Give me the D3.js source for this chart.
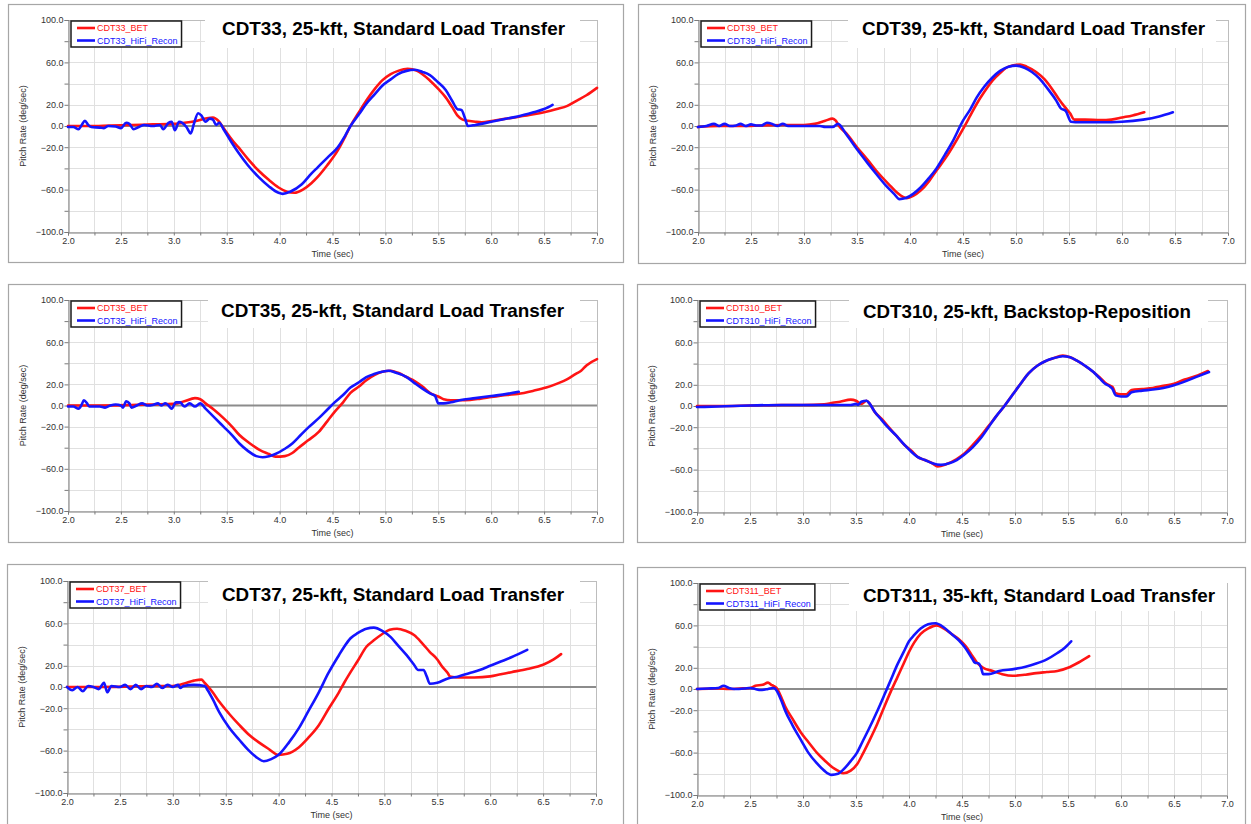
<!DOCTYPE html>
<html>
<head>
<meta charset="utf-8">
<script src="https://cdn.jsdelivr.net/npm/d3@7"></script>
<style>
  html, body { margin: 0; padding: 0; background: #fff; }
  svg { display: block; font-family: "Liberation Sans", Arial, sans-serif; }
</style>
</head>
<body>
<svg id="chart" width="1251" height="824"></svg>
<script>
// ---------------- DATA ----------------
const xTicks = [2.0, 2.25, 2.5, 2.75, 3.0, 3.25, 3.5, 3.75, 4.0, 4.25, 4.5, 4.75, 5.0, 5.25, 5.5, 5.75, 6.0, 6.25, 6.5, 6.75, 7.0];
const xTickLabels = [2.0, 2.5, 3.0, 3.5, 4.0, 4.5, 5.0, 5.5, 6.0, 6.5, 7.0];
const yTicks = [-100, -80, -60, -40, -20, 0, 20, 40, 60, 80, 100];
const yTickLabels = [100, 60, 20, 0, -20, -60, -100];
const xAxisTitle = "Time (sec)";
const yAxisTitle = "Pitch Rate (deg/sec)";

const chartTitles = [
  "CDT33, 25-kft, Standard Load Transfer",
  "CDT39, 25-kft, Standard Load Transfer",
  "CDT35, 25-kft, Standard Load Transfer",
  "CDT310, 25-kft, Backstop-Reposition",
  "CDT37, 25-kft, Standard Load Transfer",
  "CDT311, 35-kft, Standard Load Transfer"
];
const runNames = ["CDT33", "CDT39", "CDT35", "CDT310", "CDT37", "CDT311"];
const seriesSuffixes = ["_BET", "_HiFi_Recon"];

// [time (sec), pitch rate (deg/sec)]
const cdt33Bet = [[2.0,0],[2.2,0],[2.4,0.5],[2.6,1],[2.8,1.5],[3.0,2],[3.1,3],[3.2,4.5],[3.3,7],[3.37,8],[3.42,5],[3.47,-2],[3.55,-13],[3.61,-20],[3.7,-31],[3.8,-42],[3.9,-51],[3.99,-58],[4.07,-62],[4.14,-63],[4.22,-60],[4.3,-54],[4.36,-48],[4.45,-37],[4.55,-23],[4.62,-10],[4.67,0],[4.75,13],[4.82,24],[4.9,35],[4.97,43],[5.05,49],[5.12,52],[5.21,54],[5.3,52],[5.42,43],[5.5,35],[5.57,27],[5.63,18],[5.68,10],[5.73,6],[5.78,5],[5.85,4],[5.91,3.5],[6.02,5],[6.15,7],[6.25,8.5],[6.4,11],[6.5,13],[6.62,16],[6.72,19],[6.81,24],[6.9,29],[7.0,36]];
const cdt33HiFi = [[2.0,-1],[2.05,-1],[2.1,-3],[2.13,1],[2.16,5],[2.19,1],[2.22,-1],[2.3,-1.5],[2.34,-2],[2.38,0],[2.45,-0.5],[2.5,-2],[2.55,3],[2.58,2],[2.62,-3],[2.67,-1],[2.72,1],[2.8,0],[2.87,1],[2.9,-3],[2.95,3],[2.98,4],[3.01,-4],[3.05,4],[3.08,3],[3.12,-1],[3.16,-7],[3.19,2],[3.23,12],[3.26,10],[3.3,4],[3.34,7],[3.37,6],[3.4,1],[3.43,3],[3.47,-3],[3.55,-16],[3.61,-25],[3.7,-37],[3.8,-48],[3.9,-57],[3.99,-63],[4.03,-64],[4.1,-62],[4.21,-55],[4.3,-45],[4.36,-39],[4.45,-30],[4.55,-20],[4.62,-9],[4.67,0],[4.75,11],[4.82,21],[4.9,30],[4.97,38],[5.05,44],[5.12,49],[5.2,52],[5.28,53],[5.35,51],[5.42,48],[5.5,41],[5.57,34],[5.63,24],[5.68,16],[5.72,15],[5.75,8],[5.78,0],[5.85,1],[6.0,4],[6.15,7],[6.25,9],[6.4,13],[6.5,16],[6.58,20]];

const cdt39Bet = [[2.0,-1],[2.2,0],[2.4,0],[2.6,0.5],[2.8,1],[3.0,1],[3.1,2],[3.2,5],[3.27,7],[3.3,5],[3.33,0],[3.4,-7],[3.5,-20],[3.6,-32],[3.68,-42],[3.8,-55],[3.88,-63],[3.97,-68],[4.03,-66],[4.1,-61],[4.18,-52],[4.25,-42],[4.33,-31],[4.4,-20],[4.51,-1],[4.57,10],[4.63,21],[4.7,32],[4.78,43],[4.85,50],[4.93,56],[5.04,58],[5.1,56],[5.19,51],[5.27,44],[5.34,35],[5.4,26],[5.46,18],[5.51,12],[5.55,6],[5.65,6],[5.8,5.5],[5.9,6],[6.0,8],[6.1,10],[6.21,13]];
const cdt39HiFi = [[2.0,-1],[2.08,0],[2.15,2],[2.2,0],[2.25,2],[2.3,0],[2.36,0.5],[2.4,2],[2.45,0],[2.5,1.5],[2.55,0.5],[2.6,0.5],[2.65,3],[2.7,2],[2.75,0],[2.8,2],[2.85,0],[3.0,0],[3.15,0],[3.2,-1],[3.27,-1],[3.32,2],[3.4,-8],[3.5,-22],[3.6,-35],[3.68,-45],[3.78,-57],[3.85,-64],[3.9,-69],[3.96,-68],[4.03,-64],[4.1,-58],[4.18,-49],[4.25,-40],[4.33,-27],[4.4,-15],[4.5,5],[4.57,16],[4.63,27],[4.7,37],[4.78,46],[4.85,52],[4.93,56],[5.0,57],[5.08,55],[5.15,51],[5.22,45],[5.3,35],[5.38,24],[5.42,17],[5.47,14],[5.52,4],[5.6,3.5],[5.8,3.5],[6.0,4],[6.2,6],[6.35,9],[6.48,13]];

const cdt35Bet = [[2.0,0],[2.3,0],[2.6,0.5],[2.8,1],[3.0,1.5],[3.1,4],[3.2,7],[3.25,6],[3.3,2],[3.38,-4],[3.47,-12],[3.55,-20],[3.62,-28],[3.72,-36],[3.81,-42],[3.9,-46],[3.96,-48.5],[4.05,-48],[4.12,-45],[4.18,-40],[4.27,-33],[4.37,-25],[4.45,-15],[4.52,-6],[4.6,3],[4.67,12],[4.75,18],[4.82,24],[4.9,29],[4.97,32],[5.05,33],[5.12,31],[5.2,27],[5.28,23],[5.35,18],[5.42,12],[5.46,10],[5.5,8.5],[5.55,6],[5.62,5],[5.75,5],[5.9,6.5],[6.0,8],[6.15,10],[6.25,11],[6.4,14],[6.52,17],[6.63,21],[6.72,25],[6.8,30],[6.85,33],[6.9,38],[7.0,44]];
const cdt35HiFi = [[2.0,-1],[2.05,-1],[2.1,-3],[2.13,1],[2.15,5],[2.18,2],[2.2,-1],[2.3,-1],[2.35,-2],[2.4,0],[2.45,1],[2.5,0],[2.52,-2],[2.55,4],[2.58,2],[2.6,-2],[2.65,0],[2.7,2],[2.75,0],[2.8,0.5],[2.85,2],[2.88,0],[2.92,2],[2.95,0],[2.98,-3],[3.02,3],[3.06,3],[3.1,-1],[3.15,2],[3.2,-1],[3.25,2],[3.3,-3],[3.38,-11],[3.47,-20],[3.55,-28],[3.62,-36],[3.7,-43],[3.78,-48],[3.84,-49],[3.9,-48],[3.96,-46],[4.05,-41],[4.12,-36],[4.18,-30],[4.27,-21],[4.37,-12],[4.45,-4],[4.52,3],[4.6,10],[4.67,17],[4.75,22],[4.82,27],[4.9,30],[4.97,32],[5.03,33],[5.1,31],[5.2,27],[5.28,21],[5.35,16],[5.43,11],[5.47,9],[5.5,2],[5.55,2],[5.62,3],[5.7,5],[5.85,7],[6.0,9],[6.15,11],[6.26,13]];

const cdt310Bet = [[2.0,0],[2.2,0],[2.5,0.5],[2.8,1],[3.0,1],[3.2,1.5],[3.28,3],[3.35,4],[3.45,6],[3.5,5],[3.55,2],[3.6,5],[3.63,2],[3.68,-6],[3.74,-12],[3.8,-19],[3.88,-28],[3.96,-37],[4.02,-42],[4.08,-48],[4.15,-51],[4.22,-54],[4.27,-57],[4.35,-55],[4.45,-50],[4.52,-45],[4.6,-37],[4.68,-28],[4.75,-19],[4.82,-10],[4.9,0],[4.98,11],[5.06,22],[5.13,31],[5.21,38],[5.28,42],[5.36,45],[5.45,47.5],[5.52,46],[5.58,43],[5.66,38],[5.74,32],[5.8,27],[5.85,22],[5.9,19],[5.92,18],[5.95,12],[6.0,11],[6.05,11],[6.1,15],[6.2,16],[6.3,17],[6.4,19],[6.5,21],[6.6,25],[6.7,28],[6.82,33]];
const cdt310HiFi = [[2.0,-1],[2.2,-0.5],[2.5,0.5],[2.8,1],[3.0,1],[3.2,1],[3.45,1],[3.5,2],[3.52,1],[3.55,4],[3.6,5],[3.63,2],[3.68,-6],[3.74,-13],[3.8,-20],[3.88,-28],[3.96,-37],[4.02,-43],[4.08,-48],[4.15,-51],[4.22,-54],[4.3,-55.5],[4.38,-54],[4.45,-51],[4.52,-46],[4.6,-39],[4.68,-30],[4.75,-20],[4.82,-10],[4.9,0],[4.98,11],[5.06,22],[5.13,31],[5.21,38],[5.28,42],[5.36,45],[5.45,47],[5.52,46],[5.58,43],[5.66,38],[5.74,32],[5.8,26],[5.85,21],[5.9,18],[5.92,16],[5.95,10],[6.0,9],[6.05,9],[6.1,13],[6.2,14.5],[6.3,15.5],[6.4,17],[6.5,19.5],[6.6,23],[6.7,27],[6.83,32]];

const cdt37Bet = [[2.0,0],[2.3,0],[2.6,0.5],[2.8,1],[3.0,1],[3.1,3],[3.2,6],[3.27,7],[3.3,4],[3.37,-4],[3.44,-14],[3.53,-25],[3.63,-36],[3.72,-45],[3.81,-52],[3.9,-58],[4.0,-64],[4.08,-63],[4.19,-57],[4.28,-48],[4.38,-36],[4.47,-21],[4.57,-5],[4.62,4],[4.68,14],[4.75,25],[4.83,38],[4.9,44],[4.98,50],[5.05,54],[5.12,55],[5.2,53],[5.28,49],[5.36,41],[5.43,33],[5.5,26],[5.54,20],[5.6,13],[5.62,10],[5.7,9],[5.85,9],[6.0,10],[6.1,12],[6.2,14],[6.35,17],[6.5,21],[6.6,26],[6.67,31]];
const cdt37HiFi = [[2.0,0],[2.05,-3],[2.1,0],[2.15,-4],[2.2,1],[2.25,0],[2.3,-2],[2.35,4],[2.38,-5],[2.42,1],[2.5,0],[2.55,2],[2.6,-2],[2.65,2],[2.7,-2],[2.75,1],[2.8,0],[2.85,3],[2.9,-1],[2.95,2],[3.0,0],[3.05,2],[3.07,-1],[3.1,1],[3.2,2],[3.3,1],[3.33,-3],[3.38,-12],[3.44,-24],[3.53,-38],[3.63,-50],[3.72,-60],[3.8,-67],[3.86,-70],[3.93,-68],[4.0,-64],[4.1,-52],[4.19,-39],[4.28,-23],[4.38,-5],[4.47,13],[4.57,30],[4.62,38],[4.68,46],[4.75,51],[4.83,55],[4.9,56],[4.98,53],[5.06,47],[5.13,39],[5.21,30],[5.28,21],[5.32,16],[5.37,16],[5.4,10],[5.43,3],[5.5,4],[5.6,8],[5.7,10],[5.8,13],[5.9,16],[6.0,20],[6.1,24],[6.2,28],[6.35,35]];

const cdt311Bet = [[2.0,0],[2.2,0.5],[2.3,0],[2.4,0.5],[2.5,1],[2.55,3],[2.62,4],[2.67,6],[2.7,4],[2.72,3],[2.75,1],[2.8,-9],[2.83,-16],[2.9,-28],[2.98,-41],[3.05,-50],[3.13,-60],[3.2,-67],[3.28,-74],[3.33,-77],[3.38,-79.5],[3.45,-77],[3.51,-71],[3.56,-62],[3.62,-50],[3.7,-33],[3.77,-16],[3.83,-2],[3.89,11],[3.95,24],[4.0,35],[4.05,44],[4.11,52],[4.18,57],[4.26,60],[4.33,57],[4.4,52],[4.47,47],[4.53,41],[4.6,31],[4.64,25],[4.7,20],[4.79,17],[4.88,14],[4.98,12.5],[5.1,13.5],[5.2,15],[5.3,16],[5.4,17],[5.5,20],[5.6,25],[5.7,31]];
const cdt311HiFi = [[2.0,0],[2.1,0.5],[2.2,1],[2.25,3],[2.3,1],[2.35,0],[2.45,0.5],[2.5,1],[2.55,0],[2.6,-1],[2.67,0],[2.72,1],[2.74,0],[2.8,-12],[2.83,-20],[2.9,-34],[2.98,-48],[3.05,-60],[3.13,-70],[3.2,-77],[3.27,-81],[3.33,-80],[3.4,-74],[3.45,-68],[3.51,-60],[3.56,-50],[3.62,-38],[3.7,-21],[3.77,-5],[3.83,9],[3.89,23],[3.95,35],[4.0,45],[4.05,51],[4.11,57],[4.18,61],[4.25,62],[4.33,58],[4.4,52],[4.47,46],[4.53,39],[4.6,28],[4.62,25],[4.66,24],[4.68,20],[4.7,14],[4.75,14],[4.85,17],[5.0,19],[5.1,21],[5.2,24],[5.3,28],[5.4,34],[5.47,39],[5.53,45]];

const betSeries = [cdt33Bet, cdt39Bet, cdt35Bet, cdt310Bet, cdt37Bet, cdt311Bet];
const hifiSeries = [cdt33HiFi, cdt39HiFi, cdt35HiFi, cdt310HiFi, cdt37HiFi, cdt311HiFi];

// ---------------- LAYOUT ----------------
const layout = [
  { frame:[8,4,615,258],   plot:[68,597,20,232],   box:[205,580], title:[222,343,35] },
  { frame:[638,4,607,259], plot:[698,1228,20,232], box:[848,1216], title:[862,343,35] },
  { frame:[8,284,615,258], plot:[68,597,300,511],  box:[208,580], title:[221,343,317] },
  { frame:[637,284,608,258], plot:[697,1227,300,512], box:[849,1208], title:[863,328,318] },
  { frame:[7,564,616,265], plot:[67,596,581,793],  box:[208,580], title:[222,342,601] },
  { frame:[637,567,608,262], plot:[697,1227,583,795], box:[849,1227], title:[863,352,602] }
];
const colors = ["#ff1414", "#1414ff"];

const svg = d3.select("#chart");
svg.append("rect").attr("width", 1251).attr("height", 824).attr("fill", "#fff");

layout.forEach((L, i) => {
  const [fx, fy, fw, fh] = L.frame;
  const [pl, pr, pt, pb] = L.plot;
  const g = svg.append("g");

  g.append("rect").attr("x", fx + 0.5).attr("y", fy + 0.5).attr("width", fw).attr("height", fh)
    .attr("fill", "#fff").attr("stroke", "#a6a6a6").attr("stroke-width", 1.2);

  const x = d3.scaleLinear().domain([2, 7]).range([pl, pr]);
  const y = d3.scaleLinear().domain([-100, 100]).range([pb, pt]);

  // grid
  g.append("g").selectAll("line").data(xTicks).join("line")
    .attr("x1", d => Math.round(x(d)) + 0.5).attr("x2", d => Math.round(x(d)) + 0.5)
    .attr("y1", pt).attr("y2", pb)
    .attr("stroke", d => d === 7 ? "#bdbdbd" : "#e0e0e0").attr("stroke-width", 1);
  g.append("g").selectAll("line").data(yTicks.filter(d => d !== 0)).join("line")
    .attr("x1", pl).attr("x2", pr)
    .attr("y1", d => Math.round(y(d)) + 0.5).attr("y2", d => Math.round(y(d)) + 0.5)
    .attr("stroke", d => d === 100 ? "#bdbdbd" : "#e0e0e0").attr("stroke-width", 1);

  // title background box (covers top grid)
  g.append("rect").attr("x", L.box[0]).attr("y", pt - 8).attr("width", L.box[1] - L.box[0]).attr("height", 36)
    .attr("fill", "#fff");

  // zero line
  g.append("line").attr("x1", pl).attr("x2", pr).attr("y1", y(0)).attr("y2", y(0))
    .attr("stroke", "#8c8c8c").attr("stroke-width", 2);

  // axes
  const yAxis = d3.axisLeft(y).tickValues(yTicks).tickSize(4)
    .tickFormat(d => yTickLabels.includes(d) ? d3.format(".1f")(d) : "");
  const ya = g.append("g").attr("transform", `translate(${pl + 0.5},0)`).call(yAxis);
  const xAxis = d3.axisBottom(x).tickValues(xTicks).tickSize(3)
    .tickFormat(d => xTickLabels.includes(d) ? d3.format(".1f")(d) : "");
  const xa = g.append("g").attr("transform", `translate(0,${pb + 0.5})`).call(xAxis);
  [ya, xa].forEach(a => {
    a.select(".domain").attr("stroke", "#7a7a7a");
    a.selectAll(".tick line").attr("stroke", "#7a7a7a");
    a.selectAll(".tick text").attr("fill", "#333").style("font-size", "9px")
      .style("font-family", '"Liberation Sans", Arial, sans-serif');
  });
  ya.selectAll(".tick text").attr("x", -5);
  xa.selectAll(".tick text").attr("y", 5);

  // axis titles
  g.append("text").attr("x", (pl + pr) / 2).attr("y", pb + 25).attr("text-anchor", "middle")
    .attr("fill", "#333").style("font-size", "9px").text(xAxisTitle);
  g.append("text").attr("transform", `translate(${pl - 42},${(pt + pb) / 2}) rotate(-90)`)
    .attr("text-anchor", "middle").attr("fill", "#333").style("font-size", "9px").text(yAxisTitle);

  // lines
  const line = d3.line().x(d => x(d[0])).y(d => y(d[1])).curve(d3.curveMonotoneX);
  [betSeries[i], hifiSeries[i]].forEach((s, k) => {
    g.append("path").datum(s).attr("d", line).attr("fill", "none")
      .attr("stroke", colors[k]).attr("stroke-width", 2.6)
      .attr("stroke-linejoin", "round").attr("stroke-linecap", "round");
  });

  // title
  g.append("text").attr("x", L.title[0]).attr("y", L.title[2])
    .attr("textLength", L.title[1]).attr("lengthAdjust", "spacingAndGlyphs")
    .style("font-size", "18.5px").style("font-weight", "bold").attr("fill", "#000")
    .text(chartTitles[i]);

  // legend
  const lg = g.append("g").attr("transform", `translate(${pl + 3},${pt + 1})`);
  const lrect = lg.append("rect").attr("x", 0).attr("y", 0).attr("height", 26)
    .attr("fill", "#fff").attr("stroke", "#1a1a1a").attr("stroke-width", 1.5);
  let maxW = 0;
  seriesSuffixes.forEach((suf, k) => {
    const yy = 7 + k * 12.5;
    lg.append("line").attr("x1", 6).attr("x2", 24).attr("y1", yy).attr("y2", yy)
      .attr("stroke", colors[k]).attr("stroke-width", 2.6);
    const t = lg.append("text").attr("x", 26).attr("y", yy + 3.3).attr("fill", colors[k])
      .style("font-size", "9px").text(runNames[i] + suf);
    maxW = Math.max(maxW, t.node().getComputedTextLength());
  });
  lrect.attr("width", 26 + maxW + 4);
});
</script>
</body>
</html>
